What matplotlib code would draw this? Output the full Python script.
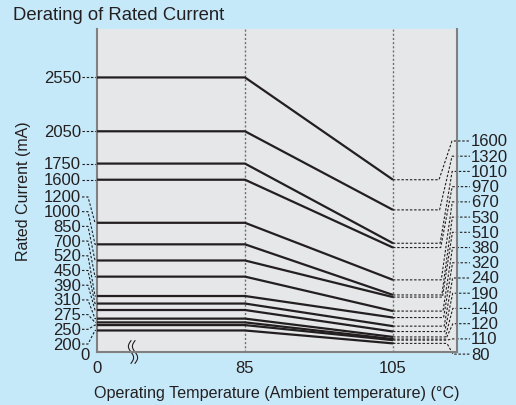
import numpy as np
import matplotlib
matplotlib.use("Agg")
import matplotlib.pyplot as plt
import matplotlib.transforms as mtransforms

plt.rcParams['font.family'] = ['Liberation Sans', 'DejaVu Sans']

# Rated current (mA) at 85 degC and at 105 degC, one pair per line
current_85 = [2550, 2050, 1750, 1600, 1200, 1000, 850, 700, 520, 450, 390, 310, 275, 250, 200]
current_105 = [1600, 1320, 1010, 970, 670, 530, 510, 380, 320, 240, 190, 140, 120, 110, 80]
temps = [0, 85, 105]
x_ticks = [0, 85, 105]

bg = '#c6e9f9'
panel = '#e6e7e8'
ink = '#231f20'
leader = dict(color=ink, lw=0.8, ls=(0, (2.2, 1.6)), clip_on=False)

# broken temperature axis: 0-85 squeezed to the same width as 85-105
def fwd(t):
    return np.interp(t, [-100, 0, 85, 300], [-100 / 85, 0, 1, 1 + 215 / 20])

def inv(u):
    return np.interp(u, [-100 / 85, 0, 1, 1 + 215 / 20], [-100, 0, 85, 300])

fig = plt.figure(figsize=(5.16, 4.06), dpi=100, facecolor=bg)
ax = fig.add_axes([97 / 516, 1 - 353 / 406, 360 / 516, 323 / 406])
ax.set_facecolor(panel)
ax.set_xscale('function', functions=(fwd, inv))
xmax = inv(360 / 148)
ax.set_xlim(0, xmax)
ax.set_ylim(0, 3000)

for s in ['left', 'bottom', 'right']:
    ax.spines[s].set_color('#808080')
    ax.spines[s].set_linewidth(1.5)
ax.spines['top'].set_visible(False)

for t in [85, 105]:
    ax.axvline(t, color='#6d6e70', lw=1, ls=(0, (1.5, 1.5)), zorder=1)

for lv, rv in zip(current_85, current_105):
    ax.plot(temps, [lv, lv, rv], color=ink, lw=1.6, solid_capstyle='butt', zorder=3)

# px -> temperature helper for the annotation layout
def px2t(px):
    return inv((px - 97) / 148)

fs = 12

# left labels: top four sit on their lines, the rest are fanned out
step_l = 136.6
for i, lv in enumerate(current_85):
    if i < 4:
        ly = lv
        ax.plot([px2t(82), 0], [ly, ly], **leader)
    else:
        ly = 1440 - (i - 4) * step_l
        ax.plot([px2t(82), px2t(88), px2t(95), 0], [ly, ly, lv, lv], **leader)
    ax.text(px2t(81), ly, str(lv), ha='right', va='center', fontsize=fs, color=ink, clip_on=False)
ax.text(px2t(90), -20, '0', ha='right', va='center', fontsize=fs, color=ink, clip_on=False)

# right labels fanned out with leaders
step_r = 141.4
for k, rv in enumerate(current_105):
    ly = 1960 - k * step_r
    xa = px2t(439 + k * 8 / 14)
    xb = px2t(452 + k / 14)
    ax.plot([105, xa, xb, px2t(470)], [rv, rv, ly, ly], **leader)
    ax.text(px2t(471), ly, str(rv), ha='left', va='center', fontsize=fs, color=ink, clip_on=False)

ax.set_xticks(x_ticks)
ax.set_xticklabels([str(v) for v in x_ticks])
ax.set_yticks([])
ax.tick_params(axis='x', length=0, pad=6, labelsize=fs, colors=ink)

# axis break squiggles
tt = np.linspace(0, 1, 60)
for dx in [0, 4]:
    off = mtransforms.ScaledTranslation((dx - 2) / 100, 0, fig.dpi_scale_trans)
    xs = 36 / 360 - (2.6 / 360) * np.sin(2 * np.pi * tt)
    ys = 0.035 - 0.07 * tt
    ax.plot(xs, ys, color=ink, lw=0.8, transform=ax.transAxes + off, clip_on=False)

ax.set_xlabel('Operating Temperature (Ambient temperature) (°C)', fontsize=11.6, color=ink, labelpad=7)
fig.text(24 / 516, 1 - 191 / 406, 'Rated Current (mA)', rotation=90, ha='center', va='center',
         fontsize=11.5, color=ink)
fig.text(13 / 516, 1 - 15 / 406, 'Derating of Rated Current', ha='left', va='center',
         fontsize=13.3, color=ink)

fig.savefig('out.png', dpi=100, facecolor=bg)
